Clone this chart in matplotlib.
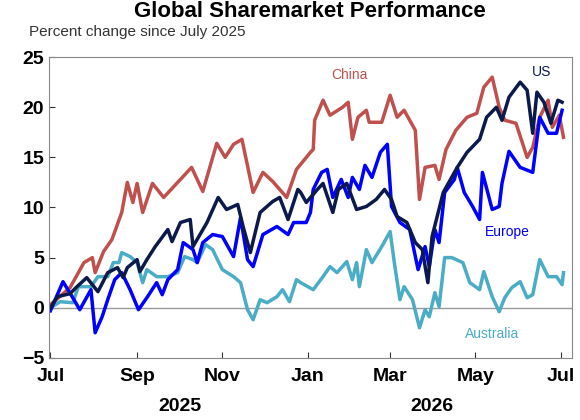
import datetime as dt
import matplotlib
matplotlib.use("Agg")
import matplotlib.pyplot as plt
import matplotlib.dates as mdates

plt.rcParams["font.family"] = ["Liberation Sans", "DejaVu Sans"]

start = dt.date(2025, 7, 1)

# day offsets from 1 Jul 2025 and percent change
china_days = [0, 14, 24, 30, 32, 38, 44, 51, 55, 59, 62, 66, 73, 81, 93, 101, 109, 119, 125, 131,
              137, 145, 152, 159, 169, 176, 186, 188, 189, 195, 200, 209, 213, 216, 220, 226, 228, 237, 243, 248,
              253, 261, 264, 268, 275, 278, 283, 290, 298, 305, 310, 316, 321, 325, 333, 341, 345, 350, 356, 359,
              364, 367]
china_vals = [0.3, 2, 4.5, 5, 3.5, 5.6, 6.8, 9.5, 12.5, 10.5, 12.4, 9.5, 12.4, 11, 12.8, 14, 11.6, 16.4, 15, 16.3,
              16.8, 11.5, 13.5, 12.6, 11, 13.8, 15.5, 15.8, 18.7, 20.7, 19.2, 20, 20.5, 16.8, 19, 19.7, 18.5, 18.5, 21.2, 19,
              19.7, 17.7, 10.8, 14, 14.2, 12.8, 15.8, 17.7, 19, 19.4, 22, 23, 20, 18.7, 18.4, 15, 16, 19, 20.7, 18,
              19.2, 17]

us_days = [0, 5, 14, 19, 26, 34, 41, 48, 52, 55, 62, 64, 69, 75, 84, 87, 93, 100, 102, 107,
           112, 120, 126, 134, 138, 143, 150, 159, 164, 170, 177, 179, 183, 191, 195, 202, 206, 212, 219, 226,
           233, 239, 244, 248, 255, 261, 266, 270, 273, 281, 291, 298, 307, 312, 319, 323, 328, 336, 341, 345,
           348, 353, 358, 363, 366]
us_vals = [0, 1.1, 1.4, 2.1, 3, 1.6, 3.5, 4, 3, 4, 4.8, 3.6, 4.8, 6.1, 7.8, 6.6, 8.5, 8.8, 6.1, 7.3,
           8.5, 11, 9.8, 10.3, 8, 5.5, 9.5, 10.6, 11, 8.8, 11.8, 11.5, 10.5, 11.8, 12.4, 9.5, 11.8, 12.4, 9.8, 10.1,
           10.8, 11.8, 10.8, 9.1, 8.5, 6.5, 5.8, 2.5, 7.1, 11.5, 14, 15.5, 16.8, 19, 20, 18.7, 21, 22.5, 21.7, 17.4,
           21.5, 20.5, 18.4, 20.7, 20.5]

europe_days = [0, 9, 16, 21, 29, 32, 37, 41, 46, 51, 57, 63, 69, 76, 80, 84, 91, 95, 102, 105,
               109, 116, 123, 131, 136, 141, 145, 152, 162, 170, 174, 183, 186, 188, 194, 198, 202, 208, 213, 216,
               221, 225, 230, 236, 241, 244, 250, 257, 263, 268, 271, 275, 278, 282, 289, 291, 296, 302, 307, 309,
               316, 321, 323, 328, 336, 345, 350, 356, 362, 366]
europe_vals = [-0.3, 2.6, 1, -0.2, 1.8, -2.5, -0.9, 0.8, 2.8, 3.5, 1.8, -0.2, 1, 2.5, 1.3, 2.8, 3.8, 6.5, 5.8, 4.5,
               6.5, 7.3, 7.1, 5.1, 9, 4.8, 4.1, 7.3, 8.1, 7.3, 8.5, 8.5, 9.5, 11.8, 13.5, 13.8, 11, 12.8, 11, 13,
               11.8, 14.2, 13, 15.5, 16.3, 10.1, 8.5, 7.8, 3.8, 6.1, 4.1, 7.8, 6.5, 11.5, 12.8, 14, 11.5, 10.1, 8.8, 13.5,
               9.8, 10.1, 12.4, 15.6, 14, 13.5, 19, 17.4, 17.4, 19.7]

aus_days = [0, 7, 16, 20, 29, 34, 41, 45, 49, 51, 57, 62, 66, 69, 76, 84, 91, 96, 102, 105,
            111, 116, 123, 131, 136, 141, 145, 150, 155, 162, 166, 171, 176, 179, 188, 195, 200, 205, 212, 216,
            219, 221, 226, 230, 237, 243, 246, 250, 253, 259, 264, 268, 271, 275, 278, 282, 287, 295, 300, 307,
            310, 316, 321, 325, 330, 336, 341, 345, 350, 356, 362, 366, 367]
aus_vals = [0, 0.6, 0.5, 2.1, 2.1, 3.1, 3.1, 4.5, 4.5, 5.5, 5.1, 4.5, 2.5, 3.8, 3.1, 3.1, 3.5, 5.1, 4.8, 4.5,
            6.3, 5.8, 3.8, 3.1, 2.5, -0.2, -1.2, 0.8, 0.5, 1.1, 1.8, 0.6, 2.8, 2.5, 1.8, 3.1, 4.1, 3.5, 4.6, 2.8,
            4.5, 2.1, 5.8, 4.5, 6.1, 7.6, 4.5, 0.8, 2.1, 0.8, -2, -0.2, -0.9, 1.5, 0.1, 5, 5, 4.5, 2.5, 1.8,
            3.6, 1.1, -0.4, 1, 2, 2.6, 1, 1.3, 4.8, 3.1, 3.1, 2.3, 3.5]

yticks = [-5, 0, 5, 10, 15, 20, 25]
xtick_dates = [dt.date(2025, 7, 1), dt.date(2025, 9, 1), dt.date(2025, 11, 1), dt.date(2026, 1, 1),
               dt.date(2026, 3, 1), dt.date(2026, 5, 1), dt.date(2026, 7, 1)]


def to_dates(days):
    return [start + dt.timedelta(days=d) for d in days]


fig = plt.figure(figsize=(5.8, 4.2), dpi=100)
ax = fig.add_axes([0.0845, 0.148, 0.9015, 0.716])

ax.axhline(0, color="#999999", lw=1)
ax.plot(to_dates(aus_days), aus_vals, color="#4bacc6", lw=2.5)
ax.plot(to_dates(china_days), china_vals, color="#c0504d", lw=2.5)
ax.plot(to_dates(europe_days), europe_vals, color="#0000ff", lw=2.5)
ax.plot(to_dates(us_days), us_vals, color="#0b1a4b", lw=2.5)

ax.set_ylim(-5, 25)
ax.set_yticks(yticks)
ax.set_xlim(dt.date(2025, 6, 30), dt.date(2026, 7, 9))
ax.set_xticks(xtick_dates)
ax.xaxis.set_major_formatter(mdates.DateFormatter("%b"))
ax.tick_params(axis="both", direction="in", length=4, labelsize=14, colors="#333333")
ax.tick_params(axis="x", pad=7)
for lab in ax.get_xticklabels() + ax.get_yticklabels():
    lab.set_fontweight("bold")
    lab.set_color("black")
for s in ax.spines.values():
    s.set_color("#888888")

ax.text(start + dt.timedelta(days=214), 23.2, "China", color="#c0504d", fontsize=10, ha="center", va="center")
ax.text(start + dt.timedelta(days=351), 23.5, "US", color="#0b1a4b", fontsize=10, ha="center", va="center")
ax.text(start + dt.timedelta(days=327), 7.6, "Europe", color="#0000ff", fontsize=10, ha="center", va="center")
ax.text(start + dt.timedelta(days=316), -2.6, "Australia", color="#4bacc6", fontsize=10, ha="center", va="center")

fig.text(0.535, 0.972, "Global Sharemarket Performance", fontsize=16, fontweight="bold", ha="center", va="center")
fig.text(0.05, 0.924, "Percent change since July 2025", fontsize=11, color="#333333", ha="left", va="center")
fig.text(0.31, 0.033, "2025", fontsize=14, fontweight="bold", ha="center", va="center")
fig.text(0.745, 0.033, "2026", fontsize=14, fontweight="bold", ha="center", va="center")

fig.savefig("out.png", dpi=100)
